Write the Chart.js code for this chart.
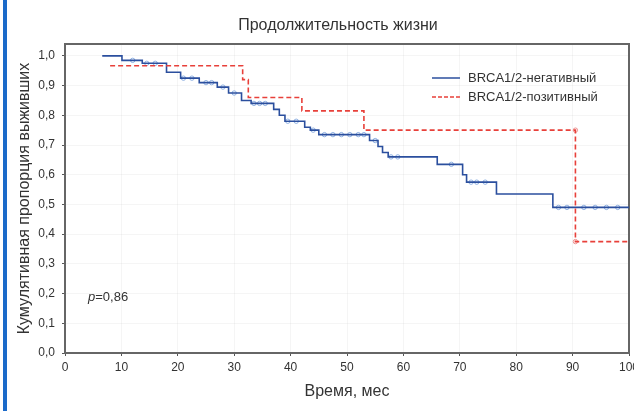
<!DOCTYPE html>
<html>
<head>
<meta charset="utf-8">
<script src="https://cdn.jsdelivr.net/npm/chart.js@4"></script>
<style>
    body { margin: 0; background: #fff; }
    .wrap { position: relative; width: 634px; height: 411px; font-family: 'Liberation Sans', Arial, sans-serif; color: #333; }
    .bar { position: absolute; left: 3px; top: 0; width: 4px; height: 411px; background: #1b6ac9; }
    .title { position: absolute; left: 0; width: 676px; top: 16px; text-align: center; font-size: 16px; }
    .pval { position: absolute; left: 88px; top: 289px; font-size: 13px; }
</style>
</head>
<body>
<div class="wrap">
    <canvas id="kmChart" width="634" height="411"></canvas>
    <div class="bar"></div>
    <div class="title">Продолжительность жизни</div>
    <div class="pval"><i>p</i>=0,86</div>
</div>
<script>
// BRCA1/2-негативный: time of each drop and the new survival level
const negTimes = [6.6, 10.1, 13.7, 18, 20.5, 23.8, 27, 29, 31.3, 33, 37, 38, 39, 42.5, 43.5, 45, 54, 55.5, 56.3, 57.3, 66, 70.5, 71.2, 76.5, 86.5, 100];
const negSurv = [1.0, 0.985, 0.975, 0.945, 0.925, 0.91, 0.895, 0.875, 0.85, 0.84, 0.82, 0.8, 0.78, 0.76, 0.75, 0.735, 0.715, 0.695, 0.675, 0.66, 0.635, 0.6, 0.575, 0.535, 0.49, 0.49];

// BRCA1/2-позитивный
const posTimes = [8, 31.5, 32.5, 42, 53, 90.5, 100];
const posSurv = [0.967, 0.92, 0.86, 0.815, 0.75, 0.375, 0.375];

// censored observations
const negCensTimes = [12, 14.5, 16, 21, 22.5, 25, 26, 28, 30, 33.5, 34.5, 35.5, 39.5, 41, 44, 46, 47.5, 49, 50.5, 52, 53, 55, 57.8, 59, 68.5, 72, 73, 74.5, 87.5, 89, 92, 94, 96, 98];
const negCensSurv = [0.985, 0.975, 0.975, 0.925, 0.925, 0.91, 0.91, 0.895, 0.875, 0.84, 0.84, 0.84, 0.78, 0.78, 0.75, 0.735, 0.735, 0.735, 0.735, 0.735, 0.735, 0.715, 0.66, 0.66, 0.635, 0.575, 0.575, 0.575, 0.49, 0.49, 0.49, 0.49, 0.49, 0.49];
const posCensTimes = [90.5, 90.5];
const posCensSurv = [0.75, 0.375];

const xTicks = [0, 10, 20, 30, 40, 50, 60, 70, 80, 90, 100];
const yTicks = [0, 0.1, 0.2, 0.3, 0.4, 0.5, 0.6, 0.7, 0.8, 0.9, 1.0];

const toPoints = (xs, ys) => xs.map((x, i) => ({ x, y: ys[i] }));

const FONT = "'Liberation Sans', Arial, sans-serif";

const legendPlugin = {
    id: 'kmLegend',
    afterDatasetsDraw(chart) {
        const ctx = chart.ctx;
        const items = [
            { label: 'BRCA1/2-негативный', color: '#2b4f9e', dash: [], y: 78 },
            { label: 'BRCA1/2-позитивный', color: '#e8403a', dash: [4, 2], y: 97 }
        ];
        ctx.save();
        items.forEach(item => {
            ctx.beginPath();
            ctx.setLineDash(item.dash);
            ctx.strokeStyle = item.color;
            ctx.lineWidth = 1.5;
            ctx.moveTo(432, item.y);
            ctx.lineTo(460, item.y);
            ctx.stroke();
            ctx.setLineDash([]);
            ctx.fillStyle = '#333';
            ctx.font = `13px ${FONT}`;
            ctx.textBaseline = 'middle';
            ctx.fillText(item.label, 468, item.y);
        });
        ctx.restore();
    }
};

new Chart(document.getElementById('kmChart'), {
    type: 'line',
    data: {
        datasets: [
            {
                label: 'BRCA1/2-негативный',
                data: toPoints(negTimes, negSurv),
                borderColor: '#2b4f9e',
                borderWidth: 1.6,
                stepped: 'before',
                pointRadius: 0,
                order: 1
            },
            {
                label: 'BRCA1/2-позитивный',
                data: toPoints(posTimes, posSurv),
                borderColor: '#e8403a',
                borderWidth: 1.6,
                borderDash: [5, 3],
                stepped: 'before',
                pointRadius: 0,
                order: 0
            },
            {
                label: 'cens-neg',
                data: toPoints(negCensTimes, negCensSurv),
                showLine: false,
                pointRadius: 2.2,
                pointBorderWidth: 1,
                pointBorderColor: 'rgba(120, 160, 220, 0.8)',
                pointBackgroundColor: 'rgba(255, 255, 255, 0)',
                order: 2
            },
            {
                label: 'cens-pos',
                data: toPoints(posCensTimes, posCensSurv),
                showLine: false,
                pointRadius: 2.2,
                pointBorderWidth: 1,
                pointBorderColor: 'rgba(235, 140, 140, 0.9)',
                pointBackgroundColor: 'rgba(255, 255, 255, 0)',
                order: 2
            }
        ]
    },
    options: {
        responsive: false,
        animation: false,
        layout: { padding: { top: 44, left: 0, right: 0, bottom: 0 } },
        plugins: {
            legend: { display: false },
            tooltip: { enabled: false }
        },
        scales: {
            x: {
                type: 'linear',
                position: 'bottom',
                min: 0,
                max: 100,
                afterBuildTicks: scale => { scale.ticks = xTicks.map(v => ({ value: v })); },
                afterFit: scale => { scale.height = 58; scale.paddingLeft = 0; scale.paddingRight = 0; },
                ticks: { color: '#333', font: { family: FONT, size: 12 }, padding: 4, maxRotation: 0 },
                grid: { color: 'rgba(0, 0, 0, 0.04)', tickLength: 3, tickColor: '#555' },
                border: { color: '#666', width: 2 },
                title: { display: true, text: 'Время, мес', color: '#333', font: { family: FONT, size: 16 }, padding: { top: 0, bottom: 10 } }
            },
            y: {
                type: 'linear',
                position: 'left',
                min: 0,
                max: 1.04,
                afterBuildTicks: scale => { scale.ticks = yTicks.map(v => ({ value: v })); },
                afterFit: scale => { scale.width = 65; scale.paddingTop = 0; scale.paddingBottom = 0; },
                ticks: {
                    color: '#333',
                    font: { family: FONT, size: 12 },
                    padding: 7,
                    callback: value => value.toFixed(1).replace('.', ',')
                },
                grid: { color: 'rgba(0, 0, 0, 0.04)', tickLength: 3, tickColor: '#555' },
                border: { color: '#666', width: 2 },
                title: { display: true, text: 'Кумулятивная пропорция выживших', color: '#333', font: { family: FONT, size: 16 }, padding: { top: 15, bottom: 0 } }
            },
            xTop: {
                type: 'linear',
                position: 'top',
                min: 0,
                max: 100,
                afterFit: scale => { scale.height = 0; scale.paddingLeft = 0; scale.paddingRight = 0; },
                ticks: { display: false },
                grid: { drawOnChartArea: false, drawTicks: false },
                border: { color: '#666', width: 2 }
            },
            yRight: {
                type: 'linear',
                position: 'right',
                min: 0,
                max: 1.04,
                afterFit: scale => { scale.width = 5; scale.paddingTop = 0; scale.paddingBottom = 0; },
                ticks: { display: false },
                grid: { drawOnChartArea: false, drawTicks: false },
                border: { color: '#666', width: 2 }
            }
        }
    },
    plugins: [legendPlugin]
});
</script>
</body>
</html>
